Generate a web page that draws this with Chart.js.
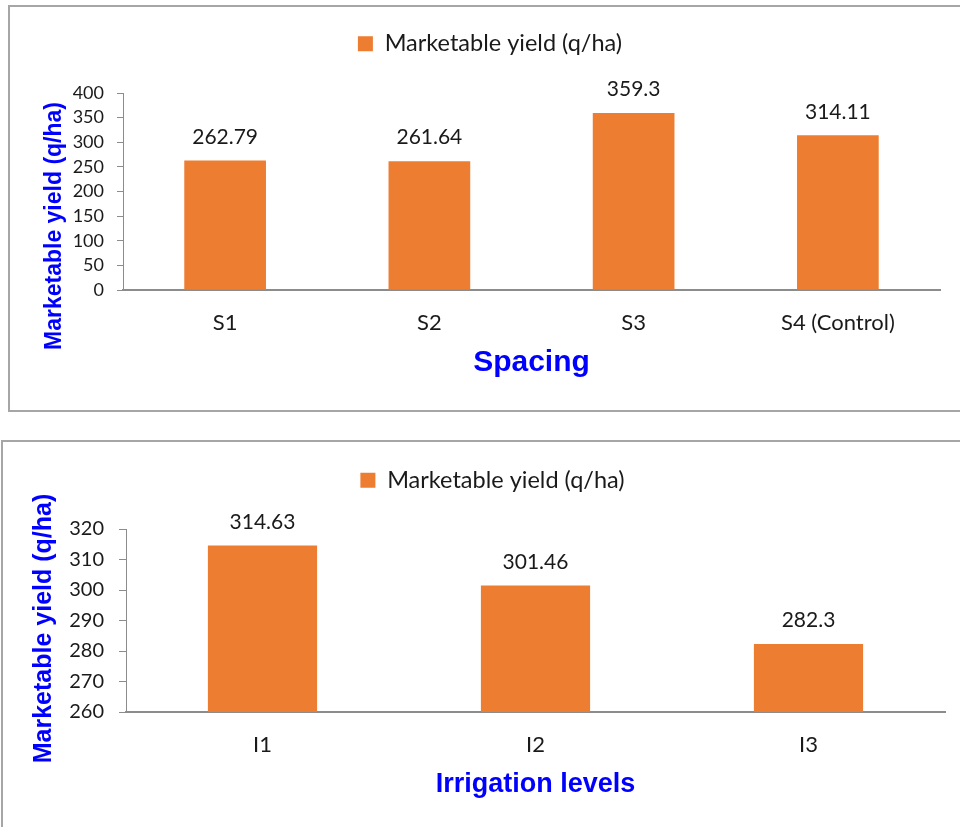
<!DOCTYPE html>
<html>
<head>
<meta charset="utf-8">
<script src="https://cdn.jsdelivr.net/npm/chart.js@4.4.0/dist/chart.umd.min.js"></script>
<style>
  body { margin: 0; background: #fff; width: 960px; height: 827px; overflow: hidden; position: relative; }
  .box { position: absolute; border: 2px solid #a6a6a6; box-sizing: border-box; }
  .wrap { position: absolute; }
</style>
</head>
<body>
<div class="box" style="left:8px; top:5px; width:1000px; height:407px;"></div>
<div class="box" style="left:1px; top:440px; width:1000px; height:420px;"></div>
<div class="wrap" style="left:0; top:0; width:960px; height:430px;"><canvas id="spacingChart"></canvas></div>
<div class="wrap" style="left:0; top:430px; width:960px; height:397px;"><canvas id="irrigationChart"></canvas></div>
<script>
// data
const seriesName = 'Marketable yield (q/ha)';
const spacingLabels = ['S1', 'S2', 'S3', 'S4 (Control)'];
const spacingYield = [262.79, 261.64, 359.3, 314.11];
const irrigationLabels = ['I1', 'I2', 'I3'];
const irrigationYield = [314.63, 301.46, 282.3];

const barColor = '#ED7D31';
const axisColor = '#8c8c8c';
const blue = '#0000FF';
const titleFont = '"Liberation Sans", Arial, sans-serif';

Chart.defaults.font.family = 'Lato, "Open Sans", sans-serif';
Chart.defaults.color = '#1a1a1a';

// value labels above the bars
const valueLabels = {
  id: 'valueLabels',
  afterDatasetsDraw(chart) {
    const ctx = chart.ctx;
    ctx.save();
    ctx.font = '21px Lato';
    ctx.fillStyle = '#1a1a1a';
    ctx.textAlign = 'center';
    ctx.textBaseline = 'middle';
    chart.getDatasetMeta(0).data.forEach((bar, i) => {
      ctx.fillText(String(chart.data.datasets[0].data[i]), bar.x, bar.y - 23.5);
    });
    ctx.restore();
  }
};

// rotated y title, sits a bit lower than the plot centre like in Excel
const yTitle = {
  id: 'yTitle',
  afterDraw(chart, args, opts) {
    const ctx = chart.ctx;
    const area = chart.chartArea;
    ctx.save();
    ctx.translate(opts.x, (area.top + area.bottom) / 2 + opts.shift);
    ctx.rotate(-Math.PI / 2);
    ctx.font = 'bold ' + opts.size + 'px ' + titleFont;
    ctx.fillStyle = blue;
    ctx.textAlign = 'center';
    ctx.textBaseline = 'middle';
    ctx.fillText(seriesName, 0, 0);
    ctx.restore();
  }
};

// legend: taller box than the default and nudged right
const legendBox = {
  id: 'legendBox',
  beforeLayout(chart, args, opts) {
    const lg = chart.legend;
    if (lg && !lg._patched) {
      const fit = lg.fit;
      lg.fit = function () { fit.call(this); this.height = opts.height; };
      lg._patched = true;
    }
  },
  afterLayout(chart, args, opts) {
    const lg = chart.legend;
    if (lg) { lg.left += opts.dx; lg.right += opts.dx; }
  }
};

const makeChart = (id, labels, values, s) => {
  const ctx = document.getElementById(id).getContext('2d');
  return new Chart(ctx, {
    type: 'bar',
    data: {
      labels: labels,
      datasets: [{
        label: seriesName,
        data: values,
        backgroundColor: barColor,
        borderWidth: 0,
        barPercentage: 0.4,
        categoryPercentage: 1.0
      }]
    },
    plugins: [valueLabels, legendBox, yTitle],
    options: {
      responsive: true,
      maintainAspectRatio: false,
      animation: false,
      layout: { padding: { top: s.padTop, left: 0, right: s.padRight, bottom: 0 } },
      scales: {
        x: {
          grid: { display: false, drawTicks: false },
          border: { display: true, color: axisColor, width: 2 },
          ticks: { padding: 20, color: '#1a1a1a', font: { size: 22 } },
          title: {
            display: true,
            text: s.xTitle,
            color: blue,
            font: { family: titleFont, size: s.xTitleSize, weight: 'bold' },
            padding: { top: 0, bottom: s.xTitlePad }
          },
          afterFit: (scale) => { scale.height = s.xHeight; }
        },
        y: {
          min: s.yMin,
          max: s.yMax,
          grid: { drawOnChartArea: false, drawTicks: true, tickLength: s.tickLen, color: axisColor },
          border: { display: true, color: axisColor, width: 1 },
          ticks: { stepSize: s.yStep, padding: s.tickPad, color: '#1a1a1a', font: { size: s.tickSize } },
          afterFit: (scale) => { scale.width = s.yWidth; }
        }
      },
      plugins: {
        legend: {
          position: 'top',
          labels: { boxWidth: 15, boxHeight: 15, padding: 10, color: '#1a1a1a', font: { size: 23.5 } }
        },
        legendBox: { height: s.legendH, dx: 20 },
        yTitle: { x: s.yTitleX, shift: s.yTitleShift, size: s.yTitleSize },
        tooltip: { enabled: false }
      }
    }
  });
};

makeChart('spacingChart', spacingLabels, spacingYield, {
  padTop: 22, padRight: 20, legendH: 71,
  xHeight: 140, xTitle: 'Spacing', xTitleSize: 30, xTitlePad: 49,
  yMin: 0, yMax: 400, yStep: 50, tickLen: 6, tickPad: 13, tickSize: 18,
  yTitleSize: 23, yTitleX: 55, yTitleShift: 34.5, yWidth: 123
});

makeChart('irrigationChart', irrigationLabels, irrigationYield, {
  padTop: 28.5, padRight: 15, legendH: 70.5,
  xHeight: 115, xTitle: 'Irrigation levels', xTitleSize: 27, xTitlePad: 26,
  yMin: 260, yMax: 320, yStep: 10, tickLen: 7, tickPad: 15, tickSize: 20,
  yTitleSize: 25, yTitleX: 44, yTitleShift: 8, yWidth: 126
});
</script>
</body>
</html>
